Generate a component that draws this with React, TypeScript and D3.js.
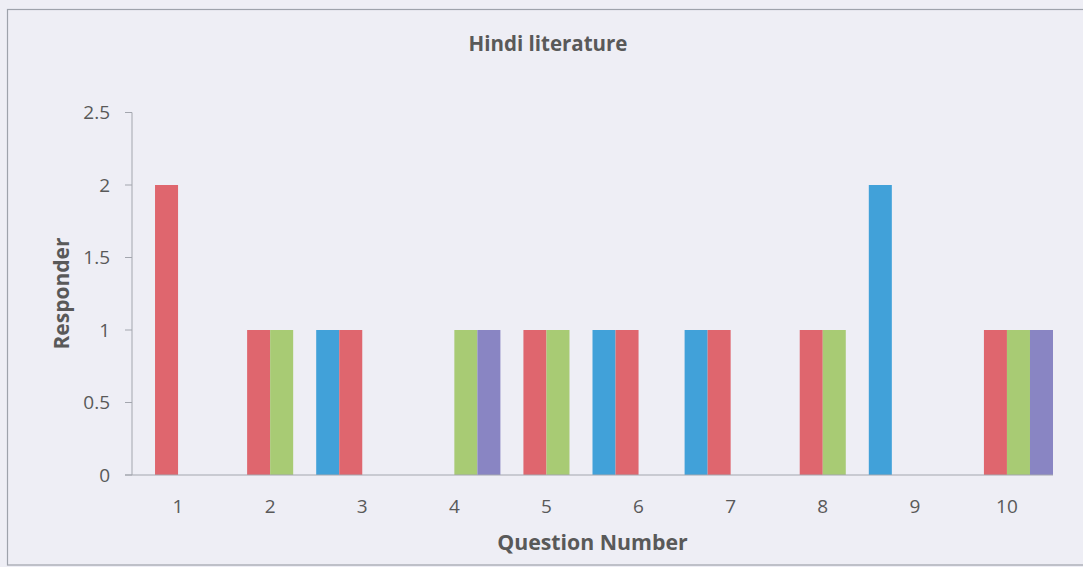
import React from "react";
import * as d3 from "d3";

const categories = ["1", "2", "3", "4", "5", "6", "7", "8", "9", "10"];
const seriesNames = ["Series1", "Series2", "Series3", "Series4"];
const blueValues = [0, 0, 1, 0, 0, 1, 1, 0, 2, 0];
const redValues = [2, 1, 1, 0, 1, 1, 1, 1, 0, 1];
const greenValues = [0, 1, 0, 1, 1, 0, 0, 1, 0, 1];
const purpleValues = [0, 0, 0, 1, 0, 0, 0, 0, 0, 1];
const yTicks = [0, 0.5, 1, 1.5, 2, 2.5];
const seriesColors = ["#41a1d9", "#df666e", "#a8cb74", "#8985c3"];

const W = 1083;
const H = 567;
const FONT = "'Open Sans', 'Noto Sans', sans-serif";

export default function App() {
  const series = [blueValues, redValues, greenValues, purpleValues];
  const x0 = d3.scaleBand<string>().domain(categories).range([132, 1053]).padding(0);
  const x1 = d3.scaleBand<string>().domain(seriesNames).range([0, x0.bandwidth()]).padding(0);
  const y = d3.scaleLinear().domain([0, 2.5]).range([475, 112.5]);
  const axisColor = "#a3a6ae";
  const textColor = "#595959";

  return (
    <svg width={W} height={H} style={{ position: "absolute", left: 0, top: 0, display: "block" }}>
      <rect x={0} y={0} width={W} height={H} fill="#eeeef5" />
      <rect x={7.5} y={9.5} width={W} height={555.5} fill="none" stroke="#9ea2ab" strokeWidth={1.2} />
      <text x={548} y={51} textAnchor="middle" fontFamily={FONT} fontWeight="bold" fontSize={20.5} fill={textColor}>
        Hindi literature
      </text>
      {/* bars */}
      {categories.map((c, ci) =>
        seriesNames.map((s, si) => {
          const v = series[si][ci];
          if (!v) return null;
          return (
            <rect
              key={c + s}
              x={(x0(c) ?? 0) + (x1(s) ?? 0)}
              y={y(v)}
              width={x1.bandwidth()}
              height={y(0) - y(v)}
              fill={seriesColors[si]}
            />
          );
        })
      )}
      {/* y axis */}
      <line x1={132} x2={132} y1={y(2.5)} y2={y(0)} stroke={axisColor} strokeWidth={1} />
      {yTicks.map((t) => (
        <g key={t}>
          <line x1={125} x2={132} y1={y(t)} y2={y(t)} stroke={axisColor} strokeWidth={1} />
          <text x={110} y={y(t)} dy="0.35em" textAnchor="end" fontFamily={FONT} fontSize={19} fill={textColor}>
            {t}
          </text>
        </g>
      ))}
      {/* x axis */}
      <line x1={125} x2={1053} y1={y(0)} y2={y(0)} stroke={axisColor} strokeWidth={1} />
      {categories.map((c) => (
        <text
          key={c}
          x={(x0(c) ?? 0) + x0.bandwidth() / 2}
          y={506}
          dy="0.35em"
          textAnchor="middle"
          fontFamily={FONT}
          fontSize={19}
          fill={textColor}
        >
          {c}
        </text>
      ))}
      <text x={592.5} y={550} textAnchor="middle" fontFamily={FONT} fontWeight="bold" fontSize={21.3} fill={textColor}>
        Question Number
      </text>
      <text
        transform={`translate(69,293.5) rotate(-90)`}
        textAnchor="middle"
        fontFamily={FONT}
        fontWeight="bold"
        fontSize={21}
        fill={textColor}
      >
        Responder
      </text>
    </svg>
  );
}
